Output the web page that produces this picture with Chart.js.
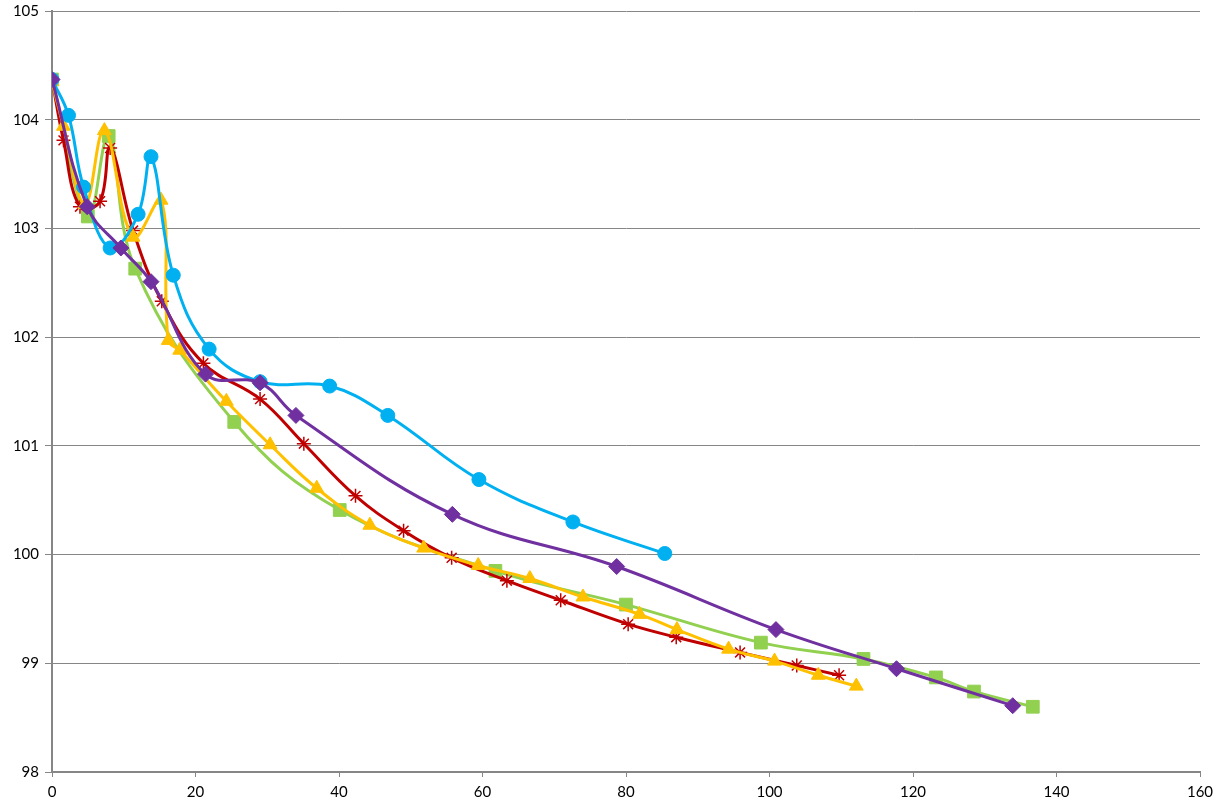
<!DOCTYPE html>
<html>
<head>
<meta charset="utf-8">
<script src="https://cdn.jsdelivr.net/npm/chart.js@4"></script>
<style>
  html, body { margin: 0; padding: 0; background: #fff; }
  #wrap { width: 1214px; height: 807px; }
</style>
</head>
<body>
<div id="wrap"><canvas id="chart" width="1214" height="807"></canvas></div>
<script>
// series values
var blueX = [0, 2.3, 4.4, 8.1, 12.0, 13.8, 16.9, 21.9, 29.0, 38.7, 46.8, 59.5, 72.6, 85.4];
var blueY = [104.37, 104.04, 103.38, 102.82, 103.13, 103.66, 102.57, 101.89, 101.59, 101.55, 101.28, 100.69, 100.30, 100.01];

var purpleX = [0, 4.9, 9.6, 13.8, 21.4, 29.0, 34.0, 55.8, 78.7, 100.9, 117.7, 133.9];
var purpleY = [104.37, 103.20, 102.82, 102.51, 101.66, 101.58, 101.28, 100.37, 99.89, 99.31, 98.95, 98.61];

var redX = [0, 1.6, 3.9, 6.7, 8.1, 11.3, 15.3, 21.1, 29.0, 35.1, 42.3, 49.0, 55.7, 63.4, 70.9, 80.3, 87.0, 95.9, 103.8, 109.7];
var redY = [104.37, 103.81, 103.20, 103.25, 103.74, 102.98, 102.33, 101.76, 101.43, 101.02, 100.54, 100.22, 99.97, 99.76, 99.58, 99.36, 99.24, 99.10, 98.98, 98.89];

var greenX = [0, 5.0, 7.9, 11.6, 25.4, 40.1, 61.8, 80.0, 98.8, 113.1, 123.2, 128.5, 136.7];
var greenY = [104.37, 103.11, 103.85, 102.63, 101.22, 100.41, 99.85, 99.54, 99.19, 99.04, 98.87, 98.74, 98.60];

var yellowX = [0, 1.6, 4.6, 7.3, 11.3, 15.2, 16.2, 17.8, 24.3, 30.4, 36.9, 44.3, 51.8, 59.4, 66.6, 74.0, 81.9, 87.1, 94.3, 100.7, 106.8, 112.1];
var yellowY = [104.35, 103.94, 103.22, 103.90, 102.92, 103.26, 101.97, 101.88, 101.41, 101.01, 100.61, 100.27, 100.06, 99.90, 99.78, 99.61, 99.45, 99.31, 99.13, 99.02, 98.89, 98.79];

var xTicks = [0, 20, 40, 60, 80, 100, 120, 140, 160];
var yTicks = [98, 99, 100, 101, 102, 103, 104, 105];

function pts(xs, ys) {
    return xs.map(function (x, i) { return { x: x, y: ys[i] }; });
}

function series(xs, ys, color, style, radius, extra) {
    var ds = {
        data: pts(xs, ys),
        showLine: true,
        borderColor: color,
        backgroundColor: color,
        borderWidth: 3,
        pointStyle: style,
        pointRadius: radius,
        pointBorderWidth: 1,
        pointBorderColor: color,
        pointBackgroundColor: color,
        tension: 0.4
    };
    for (var k in extra) ds[k] = extra[k];
    return ds;
}

var font = { family: 'Lato, "Open Sans", sans-serif', size: 15 };

new Chart(document.getElementById('chart').getContext('2d'), {
    type: 'scatter',
    data: {
        datasets: [
            series(purpleX, purpleY, '#7030A0', 'rectRot', 8, {}),
            series(blueX, blueY, '#00B0F0', 'circle', 7, {}),
            series(yellowX, yellowY, '#FFC000', 'triangle', 8, {}),
            series(redX, redY, '#C00000', 'star', 7, { pointBorderWidth: 1.5 }),
            series(greenX, greenY, '#92D050', 'rect', 9, {})
        ]
    },
    options: {
        responsive: false,
        animation: false,
        layout: { padding: { top: 11, right: 14, left: 0, bottom: 0 } },
        plugins: {
            legend: { display: false },
            title: { display: false },
            tooltip: { enabled: false }
        },
        scales: {
            x: {
                type: 'linear',
                min: 0,
                max: 160,
                afterBuildTicks: function (scale) {
                    scale.ticks = xTicks.map(function (v) { return { value: v }; });
                },
                afterFit: function (scale) {
                    scale.height = 35;
                    scale.paddingLeft = 0;
                    scale.paddingRight = 0;
                },
                grid: {
                    drawOnChartArea: false,
                    drawTicks: true,
                    tickLength: 5,
                    color: '#868686'
                },
                border: { color: '#868686', width: 2 },
                ticks: { color: '#000', font: font, padding: 6, maxRotation: 0 }
            },
            y: {
                type: 'linear',
                min: 98,
                max: 105,
                afterBuildTicks: function (scale) {
                    scale.ticks = yTicks.map(function (v) { return { value: v }; });
                },
                afterFit: function (scale) {
                    scale.width = 52;
                    scale.paddingTop = 0;
                    scale.paddingBottom = 0;
                },
                grid: {
                    color: '#868686',
                    lineWidth: 1,
                    drawTicks: true,
                    tickLength: 7
                },
                border: { color: '#868686', width: 2 },
                ticks: { color: '#000', font: font, padding: 6 }
            }
        }
    }
});
</script>
</body>
</html>
